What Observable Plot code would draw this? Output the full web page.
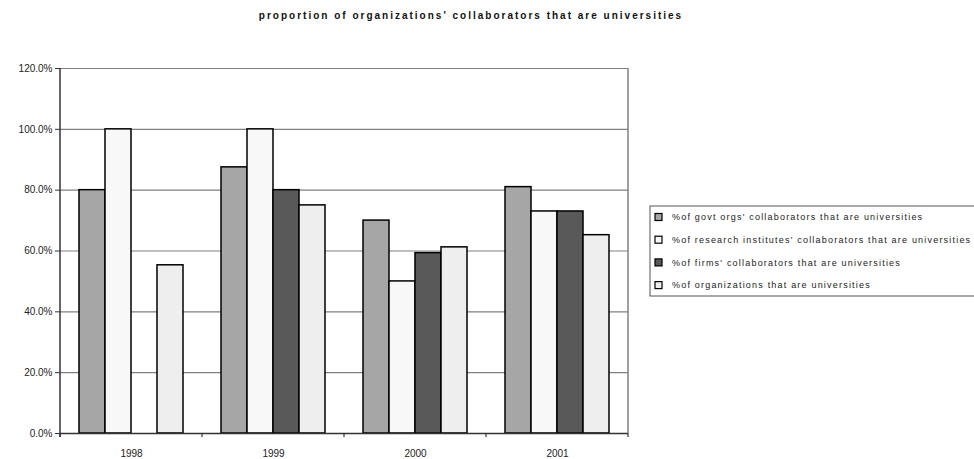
<!DOCTYPE html>
<html>
<head>
<meta charset="utf-8">
<script src="https://cdn.jsdelivr.net/npm/d3@7"></script>
<script src="https://cdn.jsdelivr.net/npm/@observablehq/plot@0.6"></script>
<style>
  html, body { margin: 0; padding: 0; background: #fff; }
  #chart { width: 974px; height: 459px; }
</style>
</head>
<body>
<div id="chart"></div>
<script>
// Survey years and the four series of university shares (percent)
const years = ["1998", "1999", "2000", "2001"];
const seriesNames = [
  "%of govt orgs' collaborators that are universities",
  "%of research institutes' collaborators that are universities",
  "%of firms' collaborators that are universities",
  "%of organizations that are universities"
];
const govtOrgs = [80.0, 87.5, 70.0, 81.0];
const researchInstitutes = [100.0, 100.0, 50.0, 73.0];
const firms = [null, 80.0, 59.3, 73.0];
const organizations = [55.3, 75.0, 61.2, 65.2];
const seriesFills = ["#a6a6a6", "#f8f8f8", "#595959", "#eeeeee"];
const yTicks = [0, 20, 40, 60, 80, 100, 120];
const titleText = "proportion of organizations' collaborators that are universities";

const seriesValues = [govtOrgs, researchInstitutes, firms, organizations];
const rows = [];
years.forEach((year, i) => {
  seriesNames.forEach((name, s) => {
    const v = seriesValues[s][i];
    if (v != null) rows.push({year, series: name, value: v});
  });
});

const pct = d => d.toFixed(1) + "%";
const font = "'Liberation Sans', Arial, sans-serif";

const chart = Plot.plot({
  width: 974,
  height: 459,
  marginLeft: 60,
  marginRight: 346,
  marginTop: 68,
  marginBottom: 26,
  style: {fontFamily: font, fontSize: "10px", color: "#222", background: "#fff", overflow: "visible"},
  fx: {domain: years, padding: 0, label: null, axis: null},
  x: {domain: seriesNames, paddingInner: 0, paddingOuter: 0.73, axis: null},
  y: {domain: [0, 120], label: null, axis: null},
  color: {domain: seriesNames, range: seriesFills},
  marks: [
    Plot.gridY(yTicks, {stroke: "#808080", strokeOpacity: 1, strokeWidth: 1.2}),
    Plot.axisY(yTicks, {anchor: "left", tickFormat: pct, tickSize: 5, tickPadding: 3, label: null, stroke: "#333"}),
    Plot.barY(rows, {fx: "year", x: "series", y: "value", fill: "series", stroke: "#000", strokeWidth: 1.5}),
    Plot.ruleY([0], {stroke: "#333", strokeWidth: 1.5}),
    Plot.axisFx({anchor: "bottom", tickSize: 0, tickPadding: 16, label: null})
  ]
});

document.getElementById("chart").appendChild(chart);

// Frame lines, category separators, title and legend
const svg = d3.select(chart);
const fx = chart.scale("fx");
const y = chart.scale("y");
const left = fx.apply(years[0]);
const right = fx.apply(years[years.length - 1]) + fx.bandwidth;
const y0 = y.apply(0);
const yTop = y.apply(120);

svg.append("line")
  .attr("x1", right).attr("x2", right).attr("y1", yTop).attr("y2", y0)
  .attr("stroke", "#808080").attr("stroke-width", 1.5);
svg.append("line")
  .attr("x1", left).attr("x2", left).attr("y1", yTop).attr("y2", y0 + 4)
  .attr("stroke", "#333").attr("stroke-width", 1.5);

const boundaries = years.map(yr => fx.apply(yr)).concat([right]);
svg.append("g").selectAll("line").data(boundaries).join("line")
  .attr("x1", d => d).attr("x2", d => d).attr("y1", y0).attr("y2", y0 + 4)
  .attr("stroke", "#333").attr("stroke-width", 1.2);

svg.append("text")
  .attr("x", 471).attr("y", 19)
  .attr("text-anchor", "middle")
  .attr("font-family", font).attr("font-size", "10px").attr("font-weight", "bold")
  .attr("letter-spacing", "2px")
  .attr("fill", "#111")
  .text(titleText);

const legend = svg.append("g").attr("transform", "translate(650,206)");
legend.append("rect")
  .attr("x", 0).attr("y", 0).attr("width", 340).attr("height", 90)
  .attr("fill", "#fff").attr("stroke", "#555").attr("stroke-width", 1);
const entries = legend.selectAll("g.entry").data(seriesNames).join("g")
  .attr("transform", (d, i) => `translate(0,${11 + i * 22.7})`);
entries.append("rect")
  .attr("x", 5).attr("y", -3.5).attr("width", 7).attr("height", 7)
  .attr("fill", (d, i) => seriesFills[i]).attr("stroke", "#000").attr("stroke-width", 1.2);
entries.append("text")
  .attr("x", 22).attr("y", 0).attr("dy", "0.35em")
  .attr("text-anchor", "start")
  .attr("font-family", font).attr("font-size", "9px")
  .attr("letter-spacing", "1.2px")
  .attr("fill", "#222")
  .text(d => d);
</script>
</body>
</html>
